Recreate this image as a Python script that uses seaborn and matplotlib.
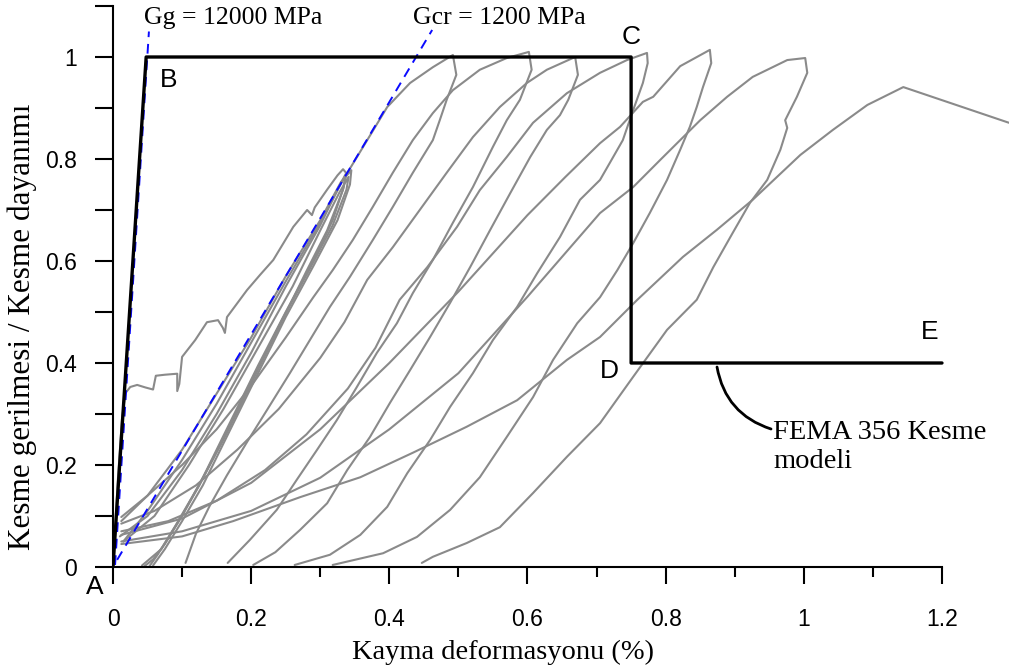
import matplotlib
matplotlib.use("Agg")
import matplotlib.pyplot as plt
import numpy as np
import pandas as pd
import seaborn as sns
from matplotlib.ticker import FixedLocator

# ---------------- data ----------------
# FEMA 356 shear model A-B-C-D-E
fema_x = [0.0, 0.048, 0.75, 0.75, 1.2]
fema_y = [0.0, 1.0, 1.0, 0.4, 0.4]

# stiffness reference lines
gg_x = [0.003, 0.052]
gg_y = [0.004, 1.05]
gcr_x = [0.006, 0.462]
gcr_y = [0.014, 1.053]

# initial (jagged) loading curve + unloading
j_x = [0.0, 0.007, 0.013, 0.018, 0.025, 0.035, 0.047, 0.058, 0.062, 0.075, 0.093, 0.093,
       0.096, 0.100, 0.119, 0.136, 0.152, 0.159, 0.162, 0.165, 0.194, 0.213, 0.232, 0.261,
       0.281, 0.288, 0.292, 0.31, 0.325, 0.333, 0.338,
       0.334, 0.318, 0.29, 0.25, 0.21, 0.17, 0.13, 0.10, 0.075, 0.058, 0.046]
j_y = [0.0, 0.17, 0.29, 0.341, 0.353, 0.357, 0.352, 0.348, 0.375, 0.377, 0.379, 0.345,
       0.359, 0.412, 0.445, 0.480, 0.484, 0.469, 0.459, 0.490, 0.543, 0.573, 0.602, 0.667,
       0.700, 0.690, 0.705, 0.740, 0.768, 0.780, 0.772,
       0.745, 0.680, 0.600, 0.500, 0.395, 0.285, 0.175, 0.100, 0.045, 0.015, 0.002]

# small cycles (peak about 0.77)
s1_x = [0.010, 0.05, 0.10, 0.15, 0.20, 0.25, 0.30, 0.325, 0.337,
        0.333, 0.31, 0.28, 0.24, 0.20, 0.16, 0.12, 0.09, 0.065, 0.052]
s1_y = [0.060, 0.10, 0.19, 0.30, 0.42, 0.55, 0.67, 0.74, 0.771,
        0.74, 0.66, 0.58, 0.47, 0.36, 0.25, 0.15, 0.08, 0.025, 0.0]
s2_x = [0.012, 0.05, 0.10, 0.15, 0.20, 0.25, 0.30, 0.330, 0.345,
        0.343, 0.325, 0.29, 0.25, 0.21, 0.17, 0.13, 0.10, 0.075, 0.058]
s2_y = [0.090, 0.14, 0.23, 0.34, 0.45, 0.57, 0.68, 0.755, 0.778,
        0.75, 0.68, 0.59, 0.49, 0.38, 0.27, 0.16, 0.09, 0.035, 0.003]
s3_x = [0.015, 0.06, 0.11, 0.16, 0.21, 0.26, 0.30, 0.328, 0.341,
        0.338, 0.318, 0.285, 0.245, 0.205, 0.165, 0.125, 0.095, 0.07, 0.042]
s3_y = [0.050, 0.10, 0.20, 0.31, 0.43, 0.55, 0.66, 0.735, 0.765,
        0.74, 0.67, 0.585, 0.485, 0.375, 0.265, 0.16, 0.09, 0.035, 0.003]

# large cycles: reloading branch then unloading branch
r1_x = [0.015, 0.05, 0.10, 0.15, 0.20, 0.25, 0.30, 0.333, 0.368, 0.397, 0.430, 0.463, 0.492]
r1_y = [0.050, 0.11, 0.21, 0.32, 0.44, 0.56, 0.675, 0.759, 0.837, 0.902, 0.949, 0.980, 1.004]
u1_x = [0.492, 0.497, 0.483, 0.473, 0.463, 0.434, 0.405, 0.376, 0.343, 0.314, 0.285, 0.256,
        0.223, 0.194, 0.165, 0.140, 0.120, 0.105]
u1_y = [1.004, 0.965, 0.916, 0.876, 0.837, 0.773, 0.706, 0.641, 0.569, 0.510, 0.445, 0.380,
        0.308, 0.245, 0.180, 0.120, 0.065, 0.008]

r2_x = [0.012, 0.05, 0.10, 0.15, 0.20, 0.25, 0.290, 0.318, 0.347, 0.376, 0.405, 0.434,
        0.463, 0.492, 0.531, 0.570, 0.602]
r2_y = [0.098, 0.14, 0.20, 0.27, 0.355, 0.45, 0.529, 0.582, 0.641, 0.706, 0.773, 0.837,
        0.890, 0.935, 0.975, 0.998, 1.010]
u2_x = [0.602, 0.606, 0.589, 0.570, 0.550, 0.521, 0.492, 0.463, 0.434, 0.411, 0.382, 0.353,
        0.324, 0.295, 0.266, 0.237, 0.198, 0.166]
u2_y = [1.010, 0.975, 0.916, 0.876, 0.824, 0.745, 0.675, 0.602, 0.537, 0.478, 0.420, 0.353,
        0.288, 0.229, 0.171, 0.112, 0.053, 0.008]

r3_x = [0.012, 0.06, 0.12, 0.18, 0.24, 0.30, 0.335, 0.368, 0.405, 0.444, 0.483, 0.521,
        0.560, 0.599, 0.628, 0.669]
r3_y = [0.085, 0.11, 0.16, 0.23, 0.31, 0.41, 0.48, 0.563, 0.627, 0.700, 0.773, 0.843,
        0.902, 0.949, 0.975, 1.000]
u3_x = [0.669, 0.673, 0.659, 0.647, 0.628, 0.604, 0.575, 0.546, 0.517, 0.488, 0.459, 0.430,
        0.401, 0.372, 0.339, 0.310, 0.271, 0.235, 0.203]
u3_y = [1.000, 0.965, 0.916, 0.886, 0.857, 0.804, 0.733, 0.661, 0.588, 0.518, 0.451, 0.386,
        0.322, 0.255, 0.190, 0.125, 0.073, 0.029, 0.004]

r4_x = [0.012, 0.08, 0.15, 0.22, 0.28, 0.34, 0.38, 0.415, 0.455, 0.498, 0.531, 0.570,
        0.608, 0.657, 0.705, 0.744, 0.773]
r4_y = [0.070, 0.09, 0.13, 0.19, 0.26, 0.35, 0.43, 0.524, 0.588, 0.667, 0.739, 0.804,
        0.871, 0.929, 0.969, 0.994, 1.008]
u4_x = [0.773, 0.774, 0.767, 0.753, 0.738, 0.719, 0.705, 0.676, 0.647, 0.614, 0.585, 0.550,
        0.521, 0.488, 0.459, 0.426, 0.397, 0.358, 0.314, 0.263]
u4_y = [1.008, 0.988, 0.949, 0.896, 0.837, 0.792, 0.759, 0.720, 0.647, 0.576, 0.510, 0.445,
        0.380, 0.314, 0.249, 0.184, 0.118, 0.063, 0.024, 0.004]

r5_x = [0.012, 0.10, 0.20, 0.30, 0.40, 0.50, 0.60, 0.655, 0.705, 0.734, 0.767, 0.782,
        0.821, 0.864]
r5_y = [0.063, 0.095, 0.165, 0.27, 0.40, 0.54, 0.69, 0.765, 0.831, 0.863, 0.912, 0.922,
        0.982, 1.014]
u5_x = [0.864, 0.866, 0.854, 0.845, 0.835, 0.821, 0.802, 0.777, 0.753, 0.730, 0.705, 0.672,
        0.637, 0.608, 0.570, 0.531, 0.488, 0.440, 0.391, 0.318]
u5_y = [1.014, 0.988, 0.941, 0.902, 0.863, 0.818, 0.759, 0.694, 0.635, 0.582, 0.529, 0.478,
        0.406, 0.333, 0.255, 0.176, 0.112, 0.059, 0.027, 0.004]

r6_x = [0.012, 0.10, 0.20, 0.30, 0.40, 0.50, 0.60, 0.705, 0.753, 0.792, 0.850, 0.889,
        0.926, 0.976, 1.002]
r6_y = [0.050, 0.07, 0.11, 0.175, 0.27, 0.38, 0.53, 0.694, 0.745, 0.798, 0.876, 0.922,
        0.961, 0.994, 0.998]
u6_x = [1.002, 1.005, 0.990, 0.973, 0.976, 0.966, 0.947, 0.922, 0.897, 0.869, 0.845, 0.802,
        0.753, 0.705, 0.657, 0.608, 0.560, 0.512, 0.463, 0.447]
u6_y = [0.998, 0.969, 0.922, 0.876, 0.861, 0.818, 0.759, 0.714, 0.655, 0.588, 0.524, 0.465,
        0.373, 0.282, 0.216, 0.145, 0.078, 0.047, 0.020, 0.008]

r7_x = [0.012, 0.10, 0.174, 0.271, 0.358, 0.434, 0.512, 0.585, 0.657, 0.705, 0.759, 0.825,
        0.874, 0.926, 0.995, 1.042, 1.092, 1.144, 1.297]
r7_y = [0.045, 0.06, 0.09, 0.137, 0.176, 0.224, 0.275, 0.327, 0.406, 0.451, 0.524, 0.608,
        0.661, 0.720, 0.808, 0.857, 0.906, 0.941, 0.871]

x_ticks = [0.0, 0.2, 0.4, 0.6, 0.8, 1.0, 1.2]
x_ticklabels = ["0", "0.2", "0.4", "0.6", "0.8", "1", "1.2"]
y_ticks = [0.0, 0.2, 0.4, 0.6, 0.8, 1.0]
y_ticklabels = ["0", "0.2", "0.4", "0.6", "0.8", "1"]

# ---------------- figure ----------------
sns.set_theme(style="ticks")
plt.rcParams['font.family'] = ['Liberation Sans', 'DejaVu Sans']
plt.rcParams['text.color'] = 'black'
plt.rcParams['axes.labelcolor'] = 'black'

W, H = 1009, 670
fig = plt.figure(figsize=(W / 100, H / 100), dpi=100)
ax = fig.add_axes([113 / W, 1 - 567 / H, (W - 113) / W, 561 / H])

curves = [
    (j_x, j_y), (s1_x, s1_y), (s2_x, s2_y), (s3_x, s3_y),
    (r1_x + u1_x, r1_y + u1_y), (r2_x + u2_x, r2_y + u2_y),
    (r3_x + u3_x, r3_y + u3_y), (r4_x + u4_x, r4_y + u4_y),
    (r5_x + u5_x, r5_y + u5_y), (r6_x + u6_x, r6_y + u6_y),
    (r7_x, r7_y),
]
gray = "#8a8a8a"
for cx, cy in curves:
    df = pd.DataFrame({"x": cx, "y": cy})
    sns.lineplot(data=df, x="x", y="y", sort=False, estimator=None,
                 color=gray, lw=1.5, ax=ax, zorder=2)

# stiffness lines
for lx, ly in [(gg_x, gg_y), (gcr_x, gcr_y)]:
    sns.lineplot(x=lx, y=ly, color="#0a0aff", lw=1.4, ax=ax, zorder=3,
                 linestyle=(0, (5, 3.5)))

# FEMA model
sns.lineplot(x=fema_x, y=fema_y, sort=False, estimator=None, color="black",
             lw=2.4, ax=ax, zorder=4)

ax.set_xlim(0, 1.297)
ax.set_ylim(0, 1.1)

for s in ["top", "right"]:
    ax.spines[s].set_visible(False)
ax.spines["bottom"].set_bounds(0, 1.2)
ax.spines["left"].set_bounds(0, 1.1)
for s in ["bottom", "left"]:
    ax.spines[s].set_linewidth(1.5)
    ax.spines[s].set_color("black")

ax.xaxis.set_major_locator(FixedLocator(x_ticks))
ax.set_xticklabels(x_ticklabels)
ax.xaxis.set_minor_locator(FixedLocator([0.1, 0.3, 0.5, 0.7, 0.9, 1.1]))
ax.yaxis.set_major_locator(FixedLocator(y_ticks))
ax.set_yticklabels(y_ticklabels)
ax.yaxis.set_minor_locator(FixedLocator([0.1, 0.3, 0.5, 0.7, 0.9, 1.1]))

ax.tick_params(axis="x", which="major", direction="out", length=12.5, width=1.5,
               pad=17, labelsize=16.5, colors="black")
ax.tick_params(axis="x", which="minor", direction="out", length=7, width=1.5,
               colors="black")
ax.tick_params(axis="y", which="both", direction="out", length=13, width=1.5,
               pad=13, labelsize=16.5, colors="black")
ax.tick_params(axis="y", which="minor", length=13)

serif = ["Liberation Serif", "DejaVu Serif"]
ax.set_xlabel("Kayma deformasyonu (%)", fontsize=20.5, family=serif, va="center",
              color="black")
ax.xaxis.set_label_coords((503 - 113) / 896, (567 - 652) / 561)
ax.set_ylabel("Kesme gerilmesi / Kesme dayanımı", fontsize=22.5, family=serif,
              va="center", color="black")
ax.yaxis.set_label_coords((22 - 113) / 896, (567 - 327) / 561)


def px2data(px, py):
    return (px - 113) / 690.8, (567 - py) / 510


tx, ty = px2data(144, 18)
ax.text(tx, ty, "Gg = 12000 MPa", fontsize=18.5, family=serif, ha="left", va="center",
        clip_on=False, color="black")
tx, ty = px2data(413, 18)
ax.text(tx, ty, "Gcr = 1200 MPa", fontsize=18.5, family=serif, ha="left", va="center",
        clip_on=False, color="black")

for lab, (px, py) in {"A": (95, 587), "B": (169, 80), "C": (631, 37),
                      "D": (609, 371), "E": (930, 332)}.items():
    tx, ty = px2data(px, py)
    ax.text(tx, ty, lab, fontsize=19, ha="center", va="center", clip_on=False,
            family=["Liberation Sans", "DejaVu Sans"], color="black")

tx, ty = px2data(773, 447)
ax.text(tx, ty, "FEMA 356 Kesme\nmodeli", fontsize=20.5, family=serif, ha="left",
        va="center", linespacing=1.22, color="black")
ax_, ay_ = px2data(717, 367)
bx_, by_ = px2data(771, 429)
ax.annotate("", xy=(ax_, ay_), xytext=(bx_, by_),
            arrowprops=dict(arrowstyle="-", color="black", lw=2.0,
                            connectionstyle="arc3,rad=-0.3", shrinkA=0, shrinkB=0))

fig.savefig("out.png", dpi=100)
